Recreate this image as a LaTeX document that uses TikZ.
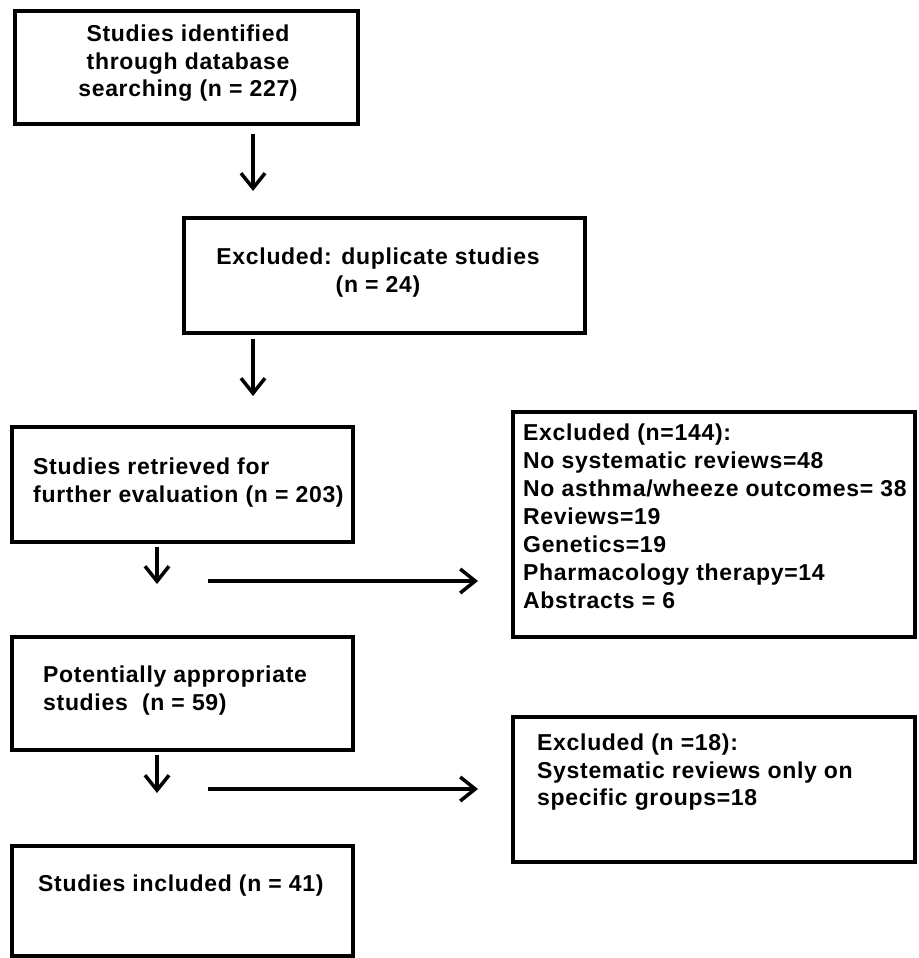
\documentclass[tikz,border=0pt]{standalone}
\usepackage{fontspec}
\setmainfont{Liberation Sans}[LetterSpace=3]
\usepackage{tikz}
\usetikzlibrary{arrows.meta}
\usetikzlibrary{calc}
\tikzset{>={Straight Barb[length=15pt,width=24pt]}}
\tikzset{box/.style={draw, line width=4pt, inner sep=0pt}}
\tikzset{boxtext/.style={inner sep=0pt, font=\fontsize{23}{27.5}\selectfont\bfseries}}
\tikzset{flow/.style={->, line width=3.5pt}}

\begin{document}
\begin{tikzpicture}[x=1pt, y=-1pt]
    \def\lw{341}
    \def\rw{402}
    \useasboundingbox (0,0) rectangle (918,958);

    \coordinate (spine) at (253,0);
    \coordinate (stem) at (157,0);

    % Main column
    \node[box, minimum width=343pt, minimum height=113pt] (search) at (186.5,67.5) {};
    \node[box, minimum width=401pt, minimum height=115pt] (dupl) at (384.5,275.5) {};
    \node[box, minimum width=\lw pt, minimum height=115pt] (retr) at (182.5,484.5) {};
    \node[box, minimum width=\lw pt, minimum height=113pt] (approp) at (182.5,693.5) {};
    \node[box, minimum width=\lw pt, minimum height=110pt] (incl) at (182.5,901) {};

    % Excluded boxes
    \node[box, minimum width=\rw pt, minimum height=225pt] (excla) at (714,524.5) {};
    \node[box, minimum width=\rw pt, minimum height=145pt] (exclb) at (714,789.5) {};

    % Texts
    \node[boxtext, anchor=north, align=center] (searchtxt) at (188,25)
        {Studies identified\\through database\\searching (n = 227)};
    \node[boxtext, anchor=north, align=center] (dupltxt) at (378,248)
        {Excluded: duplicate studies\\(n = 24)};
    \node[boxtext, anchor=north west, align=left] (retrtxt) at (33,458)
        {Studies retrieved for\\further evaluation (n = 203)};
    \node[boxtext, anchor=north west, align=left] (approptxt) at (43,666)
        {Potentially appropriate\\studies~ (n = 59)};
    \node[boxtext, anchor=north west, align=left] (incltxt) at (38,875)
        {Studies included (n = 41)};
    \node[boxtext, anchor=north west, align=left, font=\fontsize{23}{28}\selectfont\bfseries] (exclatxt) at (523,424)
        {Excluded (n=144):\\No systematic reviews=48\\No asthma/wheeze outcomes= 38\\Reviews=19\\Genetics=19\\Pharmacology therapy=14\\Abstracts = 6};
    \node[boxtext, anchor=north west, align=left] (exclbtxt) at (537,734)
        {Excluded (n =18):\\Systematic reviews only on\\specific groups=18};

    % Arrows down
    \draw[flow, shorten <=8pt, shorten >=25pt] (search.south -| spine) -- (dupl.north -| spine);
    \draw[flow, shorten <=4pt, shorten >=29pt] (dupl.south -| spine) -- (retr.north -| spine);
    \draw[flow, shorten <=3pt, shorten >=51pt] (retr.south -| stem) -- (approp.north -| stem);
    \draw[flow, shorten <=3pt, shorten >=51pt] (approp.south -| stem) -- (incl.north -| stem);

    % Arrows right
    \coordinate (outa) at (208,581);
    \coordinate (outb) at (208,789);
    \draw[flow, shorten >=33pt] (outa) -- (outa -| excla.west);
    \draw[flow, shorten >=33pt] (outb) -- (outb -| exclb.west);
\end{tikzpicture}
\end{document}
